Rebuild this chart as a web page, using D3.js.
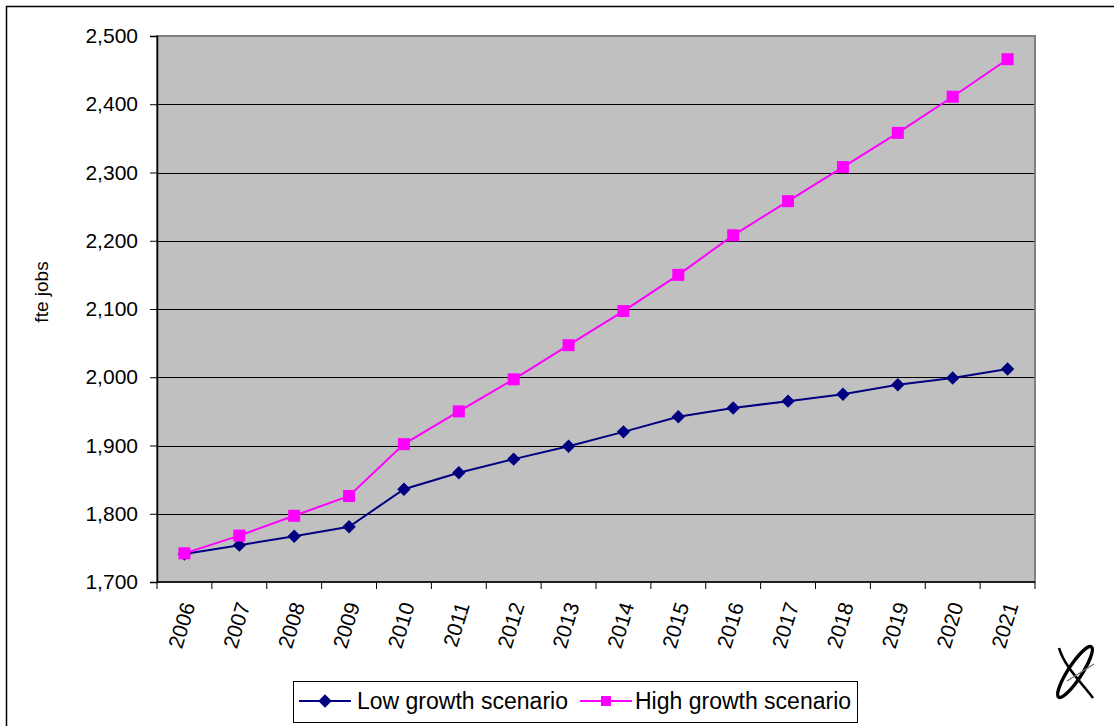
<!DOCTYPE html>
<html>
<head>
<meta charset="utf-8">
<script src="https://cdn.jsdelivr.net/npm/d3@7/dist/d3.min.js"></script>
<style>
  html, body { margin: 0; padding: 0; background: #fff; }
  svg { display: block; }
  text { font-family: "Liberation Sans", Arial, sans-serif; fill: #000; }
</style>
</head>
<body>
<svg id="chart" width="1114" height="726"></svg>
<script>
// Full-time-equivalent jobs projection, two scenarios
const years = ["2006","2007","2008","2009","2010","2011","2012","2013",
               "2014","2015","2016","2017","2018","2019","2020","2021"];
const lowGrowth  = [1741, 1754, 1767, 1781, 1836, 1860, 1880, 1899,
                    1920, 1942, 1955, 1965, 1975, 1989, 1999, 2012];
const highGrowth = [1742, 1768, 1797, 1826, 1902, 1950, 1997, 2047,
                    2097, 2150, 2208, 2258, 2308, 2358, 2411, 2466];
const yTicks = [1700, 1800, 1900, 2000, 2100, 2200, 2300, 2400, 2500];
const seriesNames = ["Low growth scenario", "High growth scenario"];

const svg = d3.select("#chart");
const plot = { left: 157, top: 36, right: 1035, bottom: 582 };
const FONT = "'Liberation Sans', Arial, sans-serif";

// outer frame (only top and left edges fall inside the page)
svg.append("path")
  .attr("d", "M6.5,726 L6.5,6.5 L1114,6.5")
  .attr("fill", "none").attr("stroke", "#000").attr("stroke-width", 1.5);

const x = d3.scaleBand().domain(years).range([plot.left, plot.right]);
const y = d3.scaleLinear().domain([1700, 2500]).range([plot.bottom, plot.top]);

// plot background
svg.append("rect")
  .attr("x", plot.left).attr("y", plot.top)
  .attr("width", plot.right - plot.left).attr("height", plot.bottom - plot.top)
  .attr("fill", "#c0c0c0");

// horizontal gridlines
svg.append("g").selectAll("line")
  .data(yTicks.slice(1, -1))
  .join("line")
  .attr("x1", plot.left).attr("x2", plot.right)
  .attr("y1", d => Math.round(y(d)) + 0.5).attr("y2", d => Math.round(y(d)) + 0.5)
  .attr("stroke", "#000").attr("stroke-width", 1);

// plot border
svg.append("rect")
  .attr("x", plot.left).attr("y", plot.top)
  .attr("width", plot.right - plot.left).attr("height", plot.bottom - plot.top)
  .attr("fill", "none").attr("stroke", "#808080").attr("stroke-width", 2);

// y axis
const yAxis = d3.axisLeft(y).tickValues(yTicks).tickSize(7).tickPadding(12)
  .tickFormat(d3.format(","));
const gy = svg.append("g").attr("transform", `translate(${plot.left},0)`).call(yAxis)
  .attr("font-size", 21).attr("font-family", FONT);
gy.select(".domain").attr("stroke", "#000").attr("stroke-width", 1.5);
gy.selectAll(".tick line").attr("stroke", "#000");
gy.selectAll(".tick text").attr("fill", "#000");

// x axis: ticks between categories
const xTickPos = years.map(yr => x(yr)).concat([plot.right]);
const gx = svg.append("g");
gx.append("line")
  .attr("x1", plot.left).attr("x2", plot.right)
  .attr("y1", plot.bottom).attr("y2", plot.bottom)
  .attr("stroke", "#000").attr("stroke-width", 1.5);
gx.selectAll("line.tk").data(xTickPos).join("line").attr("class", "tk")
  .attr("x1", d => d).attr("x2", d => d)
  .attr("y1", plot.bottom).attr("y2", plot.bottom + 7)
  .attr("stroke", "#000");
gx.selectAll("text").data(years).join("text")
  .attr("transform", d => `translate(${x(d) + x.bandwidth() / 2 + 4},${plot.bottom + 21}) rotate(-73)`)
  .attr("text-anchor", "end")
  .attr("dy", "0.35em")
  .attr("font-size", 21)
  .text(d => d);

// y axis title
svg.append("text")
  .attr("transform", "translate(48,292) rotate(-90)")
  .attr("text-anchor", "middle")
  .attr("font-size", 19)
  .text("fte jobs");

// lines and markers
const cx = d => x(d) + x.bandwidth() / 2;
const line = d3.line().x((d, i) => cx(years[i])).y(d => y(d));
const lowColor = "#000080", highColor = "#ff00ff";

svg.append("path").datum(lowGrowth).attr("d", line)
  .attr("fill", "none").attr("stroke", lowColor).attr("stroke-width", 2);
svg.append("path").datum(highGrowth).attr("d", line)
  .attr("fill", "none").attr("stroke", highColor).attr("stroke-width", 2);

const diamond = d3.symbol().type(d3.symbolDiamond2).size(115);
svg.append("g").selectAll("path").data(lowGrowth).join("path")
  .attr("d", diamond)
  .attr("transform", (d, i) => `translate(${cx(years[i])},${y(d)})`)
  .attr("fill", lowColor);

svg.append("g").selectAll("rect").data(highGrowth).join("rect")
  .attr("x", (d, i) => cx(years[i]) - 6).attr("y", d => y(d) - 6)
  .attr("width", 12).attr("height", 12)
  .attr("fill", highColor);

// legend
const lg = svg.append("g");
lg.append("rect").attr("x", 293.5).attr("y", 681.5).attr("width", 564).attr("height", 41)
  .attr("fill", "#fff").attr("stroke", "#000").attr("stroke-width", 1);
const legendItems = [
  { name: seriesNames[0], color: lowColor, x0: 299, tx: 357, marker: "diamond" },
  { name: seriesNames[1], color: highColor, x0: 580, tx: 635, marker: "square" }
];
legendItems.forEach(it => {
  const cyL = 701;
  lg.append("line").attr("x1", it.x0).attr("x2", it.x0 + 52)
    .attr("y1", cyL).attr("y2", cyL).attr("stroke", it.color).attr("stroke-width", 2);
  if (it.marker === "diamond") {
    lg.append("path").attr("d", diamond).attr("transform", `translate(${it.x0 + 26},${cyL})`)
      .attr("fill", it.color);
  } else {
    lg.append("rect").attr("x", it.x0 + 26 - 5).attr("y", cyL - 5)
      .attr("width", 10).attr("height", 10).attr("fill", it.color);
  }
  lg.append("text").attr("x", it.tx).attr("y", cyL).attr("dy", "0.35em")
    .attr("font-size", 23).text(it.name);
});

// corner emblem
const emb = svg.append("g").attr("transform", "translate(1075,672)");
emb.append("ellipse").attr("rx", 7).attr("ry", 30)
  .attr("transform", "rotate(33)")
  .attr("fill", "none").attr("stroke", "#000").attr("stroke-width", 3.4);
emb.append("path")
  .attr("d", "M-16,-24 C-10,-4 8,12 18,26")
  .attr("fill", "none").attr("stroke", "#000").attr("stroke-width", 2.6);
emb.append("path")
  .attr("d", "M-8,9 L19,-8")
  .attr("fill", "none").attr("stroke", "#777").attr("stroke-width", 1.4);
</script>
</body>
</html>
